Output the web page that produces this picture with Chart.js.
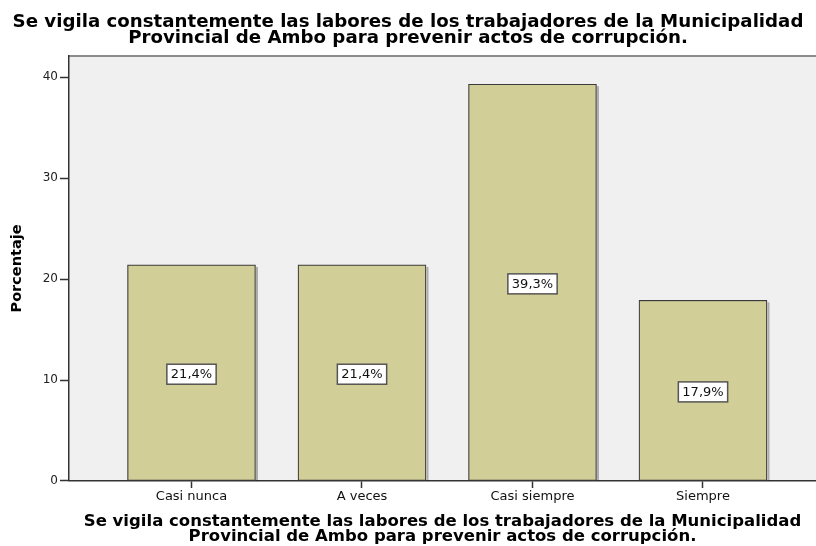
<!DOCTYPE html>
<html>
<head>
<meta charset="utf-8">
<script src="https://cdn.jsdelivr.net/npm/chart.js@4/dist/chart.umd.min.js"></script>
<style>
  html, body { margin: 0; padding: 0; background: #ffffff; }
  canvas { display: block; }
</style>
</head>
<body>
<canvas id="c" width="816" height="546"></canvas>
<script>
const categories = ['Casi nunca', 'A veces', 'Casi siempre', 'Siempre'];
const percentages = [21.4, 21.4, 39.3, 17.9];
const yTicks = [0, 10, 20, 30, 40];
const titleLines = [
  'Se vigila constantemente las labores de los trabajadores de la Municipalidad',
  'Provincial de Ambo para prevenir actos de corrupción.'
];
const yAxisTitle = 'Porcentaje';

const FONT = 'DejaVu Sans';

const plotBg = {
  id: 'plotBg',
  beforeDraw(chart) {
    const { ctx, chartArea: a } = chart;
    ctx.save();
    ctx.fillStyle = '#F0F0F0';
    ctx.fillRect(a.left, a.top, a.right - a.left, a.bottom - a.top);
    ctx.strokeStyle = '#8c8c8c';
    ctx.lineWidth = 2;
    ctx.beginPath();
    ctx.moveTo(a.left, a.top);
    ctx.lineTo(a.right, a.top);
    ctx.stroke();
    ctx.restore();
  }
};

const barLabels = {
  id: 'barLabels',
  afterDatasetsDraw(chart) {
    const { ctx } = chart;
    const meta = chart.getDatasetMeta(0);
    ctx.save();
    meta.data.forEach((bar, i) => {
      const p = bar.getProps(['x', 'y', 'base', 'width'], true);
      // right-edge shadow
      ctx.strokeStyle = 'rgba(0,0,0,0.28)';
      ctx.lineWidth = 2;
      ctx.beginPath();
      ctx.moveTo(p.x + p.width / 2 + 1.5, p.y + 2);
      ctx.lineTo(p.x + p.width / 2 + 1.5, p.base);
      ctx.stroke();
      // label box
      const txt = percentages[i].toFixed(1).replace('.', ',') + '%';
      ctx.font = '13px "' + FONT + '"';
      const w = ctx.measureText(txt).width + 8;
      const h = 20;
      const cx = p.x;
      const cy = (p.y + p.base) / 2 + 1.5;
      ctx.fillStyle = '#ffffff';
      ctx.fillRect(cx - w / 2, cy - h / 2, w, h);
      ctx.strokeStyle = '#555555';
      ctx.lineWidth = 1.5;
      ctx.strokeRect(cx - w / 2, cy - h / 2, w, h);
      ctx.fillStyle = '#111111';
      ctx.textAlign = 'center';
      ctx.textBaseline = 'middle';
      ctx.fillText(txt, cx, cy + 0.5);
    });
    ctx.restore();
  }
};

new Chart(document.getElementById('c'), {
  type: 'bar',
  data: {
    datasets: [{
      label: yAxisTitle,
      data: percentages.map((v, i) => ({ x: i, y: v })),
      backgroundColor: '#D2CE98',
      borderColor: '#3a3a3a',
      borderWidth: 1.2,
      borderSkipped: false,
      barThickness: 128
    }]
  },
  options: {
    responsive: false,
    animation: false,
    devicePixelRatio: 1,
    layout: { padding: 0 },
    plugins: {
      legend: { display: false },
      tooltip: { enabled: false },
      title: {
        display: true,
        text: titleLines,
        color: '#000',
        font: { family: FONT, weight: 'bold', size: 18.2, lineHeight: 0.9 },
        padding: { top: 13.9, bottom: 9.3 }
      }
    },
    scales: {
      x: {
        type: 'linear',
        min: -0.7185,
        max: 3.6628,
        offset: false,
        afterFit(s) { s.height = 65; },
        afterBuildTicks(s) { s.ticks = categories.map((c, i) => ({ value: i })); },
        ticks: {
          callback: (v) => categories[v],
          color: '#111',
          font: { family: FONT, size: 13 },
          padding: 1,
          maxRotation: 0,
          autoSkip: false
        },
        grid: { display: true, offset: false, drawOnChartArea: false, drawTicks: true, tickLength: 7, tickColor: '#333', tickWidth: 1.5 },
        border: { display: true, color: '#333', width: 1.5 },
        title: {
          display: true,
          text: titleLines,
          color: '#000',
          font: { family: FONT, weight: 'bold', size: 16.5, lineHeight: 0.93 },
          padding: { top: 0, bottom: 1.2 }
        }
      },
      y: {
        min: 0,
        max: 42.1,
        afterFit(s) { s.width = 69; },
        afterBuildTicks(s) { s.ticks = yTicks.map(v => ({ value: v })); },
        ticks: { color: '#222', font: { family: FONT, size: 12 }, padding: 2 },
        grid: { display: true, drawOnChartArea: false, drawTicks: true, tickLength: 9, tickColor: '#333', tickWidth: 1.5 },
        border: { display: true, color: '#333', width: 1.5 },
        title: {
          display: true,
          text: yAxisTitle,
          color: '#000',
          font: { family: FONT, weight: 'bold', size: 14.5, lineHeight: 1.2 },
          padding: { top: 8.3, bottom: 0 }
        }
      }
    }
  },
  plugins: [plotBg, barLabels]
});
</script>
</body>
</html>
